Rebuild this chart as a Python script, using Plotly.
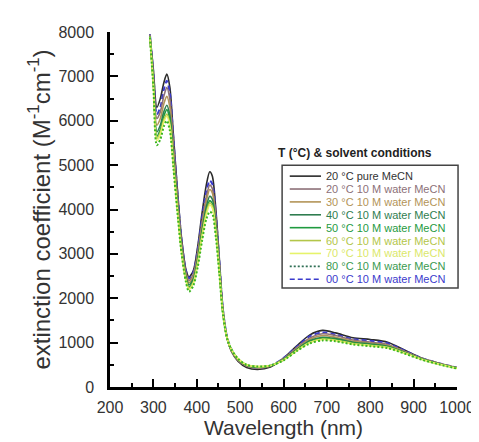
import plotly.graph_objects as go

wavelength = [292, 300, 308, 316, 324, 331, 338, 346, 355, 365, 375, 382, 392, 402, 412,
              422, 430, 436, 444, 452, 460, 470, 480, 495, 515, 540, 570, 600, 630, 660,
              690, 720, 760, 800, 840, 880, 920, 960, 1000]

labels = ["20 °C pure MeCN", "20 °C 10 M water MeCN", "30 °C 10 M water MeCN",
          "40 °C 10 M water MeCN", "50 °C 10 M water MeCN", "60 °C 10 M water MeCN",
          "70 °C 10 M water MeCN", "80 °C 10 M water MeCN", "00 °C 10 M water MeCN"]

pure_20 = [7950, 7150, 6300, 6500, 6850, 7050, 6750, 5700, 4500, 3350, 2650, 2480, 2620, 3150, 3900,
           4550, 4850, 4750, 4000, 2900, 1800, 1100, 800, 580, 440, 395, 450, 650, 920, 1170,
           1275, 1220, 1110, 1070, 1010, 830, 650, 530, 430]
water_20 = [7930, 7000, 6050, 6200, 6550, 6750, 6480, 5500, 4350, 3250, 2580, 2400, 2540, 3020, 3700,
            4280, 4550, 4470, 3800, 2780, 1750, 1100, 810, 600, 470, 430, 470, 640, 880, 1100,
            1200, 1160, 1060, 1010, 960, 800, 640, 530, 440]
water_30 = [7920, 6950, 5900, 6050, 6380, 6550, 6300, 5350, 4250, 3200, 2530, 2350, 2480, 2950, 3620,
            4180, 4450, 4370, 3720, 2740, 1730, 1100, 820, 610, 480, 440, 475, 630, 860, 1070,
            1160, 1120, 1030, 990, 940, 790, 635, 525, 435]
water_40 = [7910, 6900, 5750, 5900, 6200, 6350, 6120, 5200, 4150, 3120, 2480, 2300, 2430, 2880, 3520,
            4060, 4300, 4230, 3620, 2680, 1710, 1100, 830, 620, 490, 450, 480, 620, 840, 1040,
            1120, 1090, 1010, 970, 920, 780, 630, 520, 430]
water_50 = [7900, 6850, 5650, 5800, 6100, 6250, 6020, 5120, 4100, 3080, 2440, 2250, 2380, 2820, 3450,
            3970, 4200, 4130, 3550, 2640, 1700, 1100, 840, 630, 495, 450, 480, 615, 830, 1020,
            1100, 1070, 990, 950, 905, 770, 625, 515, 425]
water_60 = [7900, 6820, 5600, 5740, 6020, 6150, 5930, 5060, 4060, 3050, 2420, 2230, 2360, 2790, 3410,
            3930, 4150, 4080, 3510, 2620, 1690, 1100, 840, 635, 500, 460, 485, 610, 820, 1005,
            1080, 1055, 980, 940, 895, 765, 620, 512, 422]
water_70 = [7890, 6800, 5550, 5690, 5970, 6100, 5880, 5020, 4030, 3030, 2400, 2200, 2330, 2760, 3370,
            3880, 4100, 4030, 3470, 2600, 1680, 1100, 845, 640, 500, 460, 485, 605, 815, 995,
            1070, 1045, 970, 930, 885, 760, 618, 510, 420]
water_80 = [7880, 6750, 5450, 5580, 5870, 6000, 5780, 4950, 3980, 3000, 2370, 2150, 2280, 2690, 3280,
            3780, 3950, 3900, 3380, 2550, 1660, 1090, 845, 640, 500, 460, 485, 600, 805, 980,
            1050, 1030, 960, 920, 875, 750, 612, 505, 415]
water_00 = [7940, 7050, 6150, 6300, 6700, 6900, 6620, 5600, 4420, 3300, 2620, 2450, 2580, 3080, 3800,
            4400, 4650, 4570, 3880, 2830, 1780, 1120, 850, 620, 480, 440, 480, 650, 900, 1140,
            1230, 1180, 1080, 1040, 985, 815, 645, 530, 435]

series = [pure_20, water_20, water_30, water_40, water_50, water_60, water_70, water_80, water_00]
colors = ["#2b2b2b", "#8c7078", "#b39458", "#2f7d4f", "#1f9a3f", "#b3c64a", "#e6f36a", "#3cb521", "#3a3acc"]
text_colors = ["#333333", "#8c7078", "#b39458", "#2f7d4f", "#1f9a3f", "#b3c64a", "#dbe86a", "#3a9a50", "#3a3acc"]
dashes = ["solid"] * 7 + ["2px,2px", "5px,3px"]
legend_line_colors = colors[:7] + ["#2f6f55", "#3a3acc"]

fig = go.Figure()
order = [0, 8, 1, 2, 3, 4, 5, 6, 7]
for i in order:
    fig.add_trace(go.Scatter(x=wavelength, y=series[i], mode="lines", name=labels[i],
                             line=dict(color=colors[i], width=1.6 if i < 7 else 2.0,
                                       dash=dashes[i], shape="spline", smoothing=0.8),
                             showlegend=False))

# custom legend (paper coordinates)
shapes = [dict(type="rect", xref="paper", yref="paper", x0=0.496, x1=1.003, y0=0.279, y1=0.625,
               line=dict(color="#444444", width=1.5), fillcolor="white", layer="above")]
annotations = [dict(xref="paper", yref="paper", x=0.478, y=0.658, xanchor="left", yanchor="middle",
                    text="<b>T (°C) & solvent conditions</b>", showarrow=False,
                    font=dict(size=12, color="#222222"))]
y_top = 0.594
step = 0.0363
for k in range(9):
    yk = y_top - k * step
    shapes.append(dict(type="line", xref="paper", yref="paper", x0=0.518, x1=0.608, y0=yk, y1=yk,
                       line=dict(color=legend_line_colors[k], width=1.6, dash=dashes[k]), layer="above"))
    annotations.append(dict(xref="paper", yref="paper", x=0.618, y=yk, xanchor="left", yanchor="middle",
                            text=labels[k], showarrow=False,
                            font=dict(size=11, color=text_colors[k])))

fig.update_layout(
    width=479, height=442,
    margin=dict(l=102, r=22, t=24, b=63),
    paper_bgcolor="white", plot_bgcolor="white",
    font=dict(family="Liberation Sans, Arial, sans-serif", color="#333333"),
    shapes=shapes, annotations=annotations,
    xaxis=dict(range=[200, 1000], dtick=100, tick0=200, ticks="inside", ticklen=8, tickwidth=2,
               tickcolor="black", showline=True, linecolor="black", linewidth=2.5, showgrid=False,
               zeroline=False, tickfont=dict(size=16, color="#333333"), ticklabelstandoff=4,
               minor=dict(ticks="inside", dtick=50, ticklen=4, tickwidth=2, tickcolor="black"),
               title=dict(text="Wavelength (nm)", font=dict(size=21, color="#333333"), standoff=6)),
    yaxis=dict(range=[0, 8000], dtick=1000, ticks="inside", ticklen=8, tickwidth=2,
               tickcolor="black", showline=True, linecolor="black", linewidth=2.5, showgrid=False,
               zeroline=False, tickfont=dict(size=16, color="#333333"), ticklabelstandoff=10,
               minor=dict(ticks="inside", dtick=500, ticklen=4, tickwidth=2, tickcolor="black"),
               title=dict(text="extinction coefficient (M<sup>-1</sup>cm<sup>-1</sup>)",
                          font=dict(size=24, color="#333333"), standoff=2)),
)

fig.write_html("out.html")
